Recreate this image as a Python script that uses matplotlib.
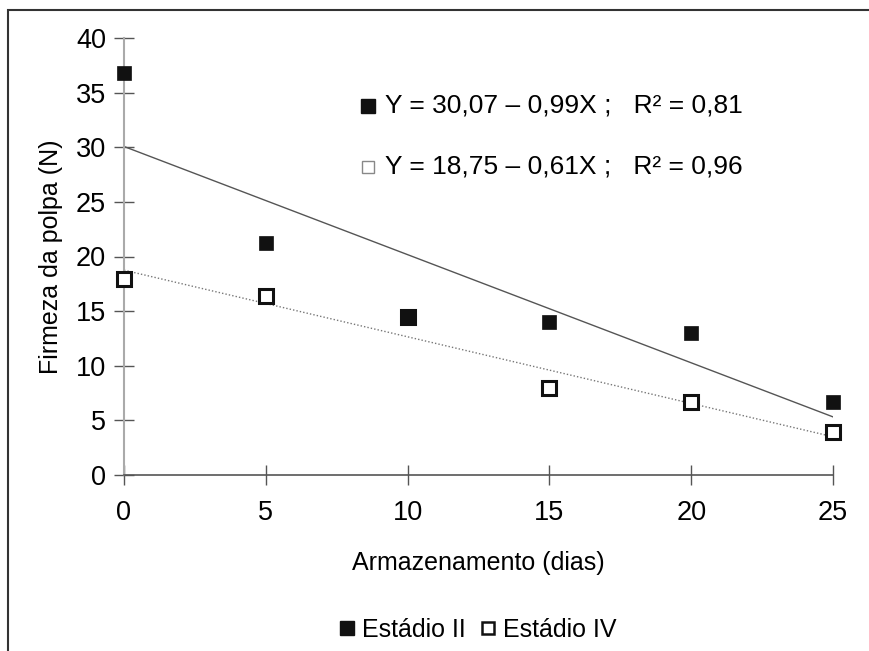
import numpy as np
import matplotlib.pyplot as plt
from matplotlib.patches import Rectangle
from matplotlib.lines import Line2D

plt.rcParams['font.family'] = ['Liberation Sans', 'DejaVu Sans']

# storage days
dias = [0, 5, 10, 15, 20, 25]
# pulp firmness (N)
est_II = [36.8, 21.2, 14.5, 14.0, 13.0, 6.7]
est_IV = [17.9, 16.4, 14.5, 8.0, 6.7, 3.9]

# regression coefficients (a, b) for Y = a + b*X
coef_II = [30.07, -0.99]
coef_IV = [18.75, -0.61]

xticks = [0, 5, 10, 15, 20, 25]
yticks = [0, 5, 10, 15, 20, 25, 30, 35, 40]


def main():
    fig = plt.figure(figsize=(8.7, 6.51), dpi=100)
    W, H = 870, 651

    # outer frame (only left and top visible)
    fig.patches.append(Rectangle((8.5 / W, -0.1), 1.2, 1.1 - 10 / H,
                                 transform=fig.transFigure, fill=False,
                                 edgecolor='#333333', lw=1.5))

    ax = fig.add_axes([124 / W, 1 - 475 / H, (833 - 124) / W, (475 - 38) / H])

    xl = np.array([dias[0], dias[-1]])
    ax.plot(xl, coef_II[0] + coef_II[1] * xl, color='#555555', lw=1.0, zorder=2)
    ax.plot(xl, coef_IV[0] + coef_IV[1] * xl, color='#777777', lw=1.0,
            linestyle=(0, (1, 1.5)), zorder=2)

    ax.plot(dias, est_IV, linestyle='none', marker='s', markersize=9.5,
            markerfacecolor='white', markeredgecolor='#111111',
            markeredgewidth=2.2, zorder=3, clip_on=False)
    ax.plot(dias, est_II, linestyle='none', marker='s', markersize=10.5,
            markerfacecolor='#111111', markeredgecolor='#111111',
            markeredgewidth=0.5, zorder=4, clip_on=False)

    ax.set_xlim(0, 25)
    ax.set_ylim(0, 40)
    ax.set_xticks(xticks)
    ax.set_yticks(yticks)

    for s in ['top', 'right']:
        ax.spines[s].set_visible(False)
    ax.spines['left'].set_color('#aaaaaa')
    ax.spines['left'].set_linewidth(1.5)
    ax.spines['bottom'].set_color('#555555')
    ax.spines['bottom'].set_linewidth(1.2)

    ax.tick_params(axis='y', direction='inout', length=14, width=1,
                   color='#555555', labelsize=19.5, pad=6)
    ax.tick_params(axis='x', direction='inout', length=14, width=1,
                   color='#555555', labelsize=19.5, pad=11)

    ax.set_xlabel('Armazenamento (dias)', fontsize=18, labelpad=18)
    ax.set_ylabel('Firmeza da polpa (N)', fontsize=18, labelpad=9)

    # equations with their key markers
    ax.plot([0.344], [0.845], transform=ax.transAxes, linestyle='none',
            marker='s', markersize=10, markerfacecolor='#111111',
            markeredgecolor='#111111', clip_on=False)
    ax.text(0.368, 0.845, 'Y = 30,07 \u2013 0,99X ;   R\u00b2 = 0,81',
            transform=ax.transAxes, fontsize=19, va='center', ha='left')
    ax.plot([0.344], [0.705], transform=ax.transAxes, linestyle='none',
            marker='s', markersize=8.5, markerfacecolor='white',
            markeredgecolor='#888888', markeredgewidth=1.0, clip_on=False)
    ax.text(0.368, 0.705, 'Y = 18,75 \u2013 0,61X ;   R\u00b2 = 0,96',
            transform=ax.transAxes, fontsize=19, va='center', ha='left')

    handles = [
        Line2D([], [], linestyle='none', marker='s', markersize=10,
               markerfacecolor='#111111', markeredgecolor='#111111'),
        Line2D([], [], linestyle='none', marker='s', markersize=9,
               markerfacecolor='white', markeredgecolor='#111111',
               markeredgewidth=1.8),
    ]
    fig.legend(handles, ['Estádio II', 'Estádio IV'], loc='center',
               bbox_to_anchor=(478 / W, 1 - 630 / H), ncol=2, frameon=False,
               fontsize=18, handlelength=0.6, handletextpad=0.3,
               columnspacing=0.6)

    fig.savefig('out.png', dpi=100)


if __name__ == "__main__":
    main()
